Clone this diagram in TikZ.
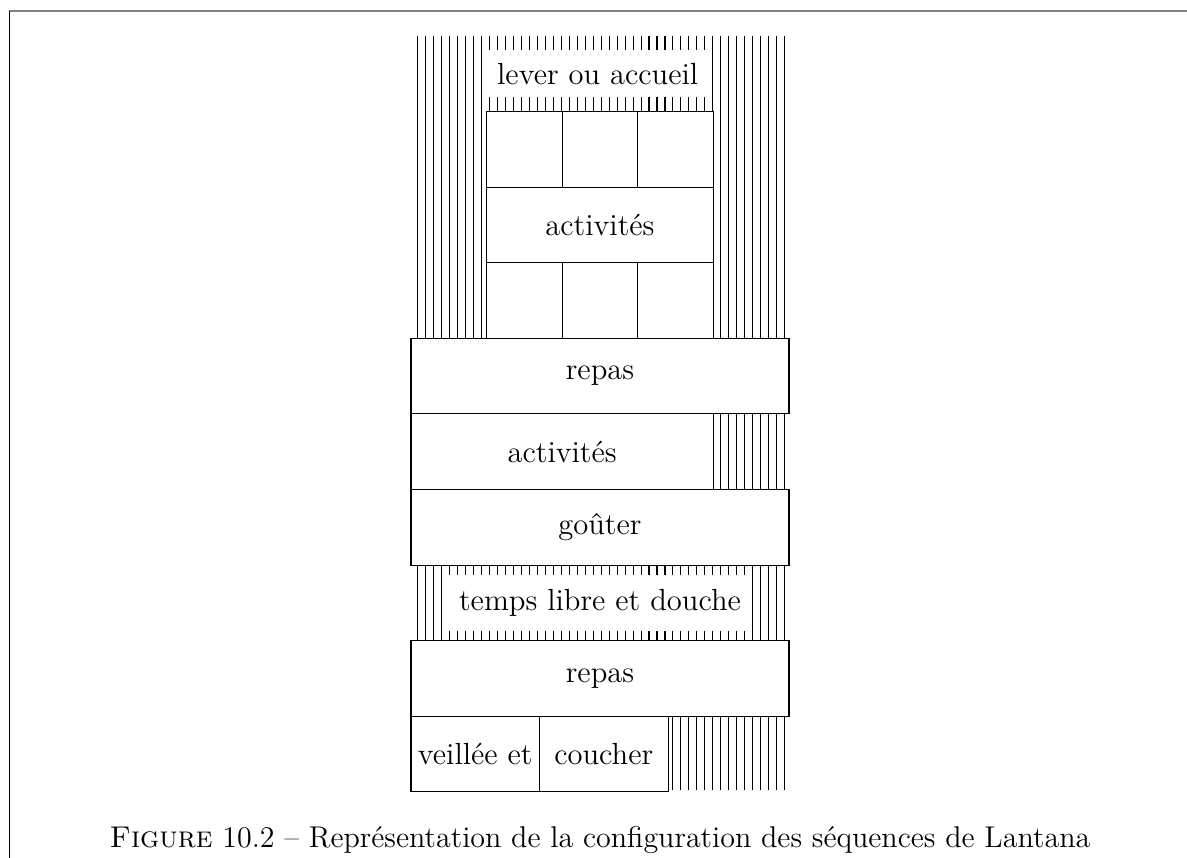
\documentclass[tikz,border=0pt]{standalone}
\usepackage{fontspec}

\begin{document}
\begin{tikzpicture}
[every node/.style={inner sep=0pt,font=\fontsize{11.5}{14}\selectfont},%
  seqbox/.style={draw,fill=white,minimum height=1cm},%
  gap/.style={fill=white,inner sep=4pt}]
\useasboundingbox (-5.437,-0.873) rectangle (10.265,10.476);
% page frame
\draw[gray,line width=0.6pt] (-5.317,10.33) -- (10.265,10.33);
\draw[line width=0.4pt] (-5.317,10.33) -- (-5.317,-0.873);
% free time: hatching of the whole column
\foreach \k in {0,...,46}
  \draw[line width=0.4pt] (0.089+0.1055*\k,0.02) -- ++(0,9.98);
% morning
\node[gap,minimum width=3cm,minimum height=0.62cm] (lever) at (2.47,9.5) {lever ou accueil};
\foreach \i/\x in {1/1.5,2/2.5,3/3.5}
  \foreach \j/\y in {1/8.5,2/6.5}
    \node[seqbox,minimum width=1cm] (cell\i\j) at (\x,\y) {};
\node[seqbox,minimum width=3cm] (activA) at (2.5,7.5) {activités};
\node[seqbox,minimum width=5cm] (repasA) at (2.5,5.5) {repas};
% afternoon
\node[seqbox,minimum width=4cm] (activB) at (2,4.5) {activités};
\node[seqbox,minimum width=5cm] (gouter) at (2.5,3.5) {goûter};
\node[gap,minimum width=4cm,minimum height=0.73cm] (libre) at (2.5,2.5) {temps libre et douche};
% evening
\node[seqbox,minimum width=5cm] (repasB) at (2.5,1.5) {repas};
\node[seqbox,minimum width=1.7cm] (veillee) at (0.85,0.5) {veillée et};
\node[seqbox,minimum width=1.7cm] (coucher) at (2.55,0.5) {coucher};
% caption
\node[anchor=base,font=\fontsize{11.3}{14}\selectfont] (caption) at (2.5,-0.73)
  {\textsc{Figure} 10.2 – Représentation de la configuration des séquences de Lantana};
\end{tikzpicture}
\end{document}
